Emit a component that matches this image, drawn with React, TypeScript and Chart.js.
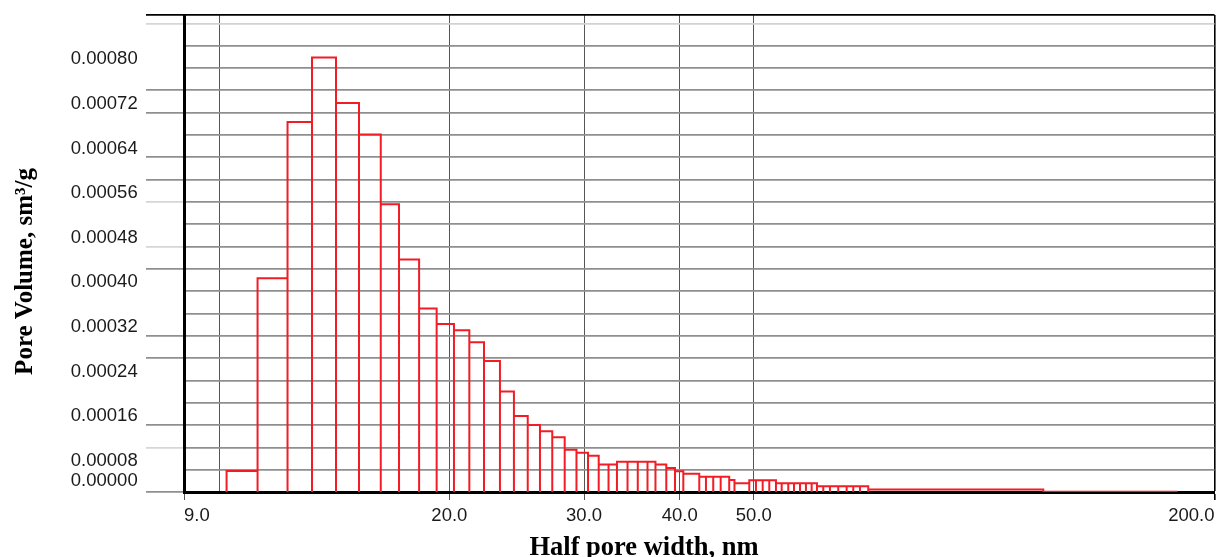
import React, { useEffect, useRef } from 'react';
import { Chart, registerables } from 'chart.js';

Chart.register(...registerables);

// Histogram bin edges (half pore width, nm)
const BIN_EDGES = [
  10.23, 11.23, 12.29, 13.23, 14.22, 15.24, 16.27, 17.19, 18.26, 19.25,
  20.28, 21.24, 22.2, 23.29, 24.29, 25.32, 26.27, 27.26, 28.3, 29.32,
  30.36, 31.35, 32.29, 33.12, 34.19, 35.26, 36.31, 37.19, 38.42, 39.44,
  40.44, 42.43, 43.29, 44.25, 45.25, 46.43, 47.17, 49.32, 50.32, 51.35,
  52.38, 53.44, 54.37, 55.46, 56.42, 57.45, 58.49, 59.5, 60.46, 61.62,
  62.87, 64.46, 66.11, 67.44, 68.81, 70.55, 119.46, 178.46,
];

// Pore volume per bin (sm3/g)
const PORE_VOLUME = [
  0.0000376, 0.0003831, 0.0006632, 0.0007787, 0.0006973, 0.0006406, 0.0005157, 0.0004166, 0.0003287, 0.0003011,
  0.0002898, 0.0002683, 0.0002348, 0.00018, 0.0001362, 0.0001201, 0.0001088, 0.000098, 0.0000756, 0.0000703,
  0.0000652, 0.0000491, 0.0000491, 0.0000541, 0.0000541, 0.0000541, 0.0000541, 0.0000491, 0.000043, 0.0000371,
  0.0000326, 0.0000272, 0.0000272, 0.0000272, 0.0000272, 0.0000215, 0.0000156, 0.000021, 0.000021, 0.000021,
  0.000021, 0.0000156, 0.0000156, 0.0000156, 0.0000156, 0.0000156, 0.0000156, 0.0000156, 0.0000102, 0.0000102,
  0.0000102, 0.0000102, 0.0000102, 0.0000102, 0.0000102, 0.0000045, 0.0000005,
];

const X_MIN = 9;
const X_MAX = 200;
const X_TICKS = [9, 10, 20, 30, 40, 50, 200];
const X_TICK_LABELS = ['9.0', '', '20.0', '30.0', '40.0', '50.0', '200.0'];

const Y_MAX = 0.000855;
const Y_GRID = [
  0, 0.00004, 0.00008, 0.00012, 0.00016, 0.0002, 0.00024, 0.00028, 0.00032, 0.00036, 0.0004,
  0.00044, 0.00048, 0.00052, 0.00056, 0.0006, 0.00064, 0.00068, 0.00072, 0.00076, 0.0008, 0.00084,
];
const Y_LABEL_VALUES = [0.00008, 0.00016, 0.00024, 0.00032, 0.0004, 0.00048, 0.00056, 0.00064, 0.00072, 0.0008];
const Y_LABEL_TEXT = ['0.00008', '0.00016', '0.00024', '0.00032', '0.00040', '0.00048', '0.00056', '0.00064', '0.00072', '0.00080'];
const Y_ZERO_LABEL = '0.00000';

const X_TITLE = 'Half pore width, nm';
const Y_TITLE = 'Pore Volume, sm\u00B3/g';

// tick-mark style indices of the horizontal grid
const Y_TICK_EXT = [0, 3, 6, 7, 10, 14, 15, 17, 18];
const Y_TICK_LIGHT = [2, 11, 13, 21];
const Y_GRID_LIGHT = [21];

const SANS = '"Liberation Sans", Arial, sans-serif';
const SERIF = '"Liberation Serif", "Times New Roman", serif';
const Y_TICK_LEN = 38;
const Y_TICK_PAD = 8.3;
const Y_LABEL_SHIFT = 13.5;
const Y_ZERO_SHIFT = -11.5;

const textPlugin = {
  id: 'extraText',
  afterDraw(chart: any) {
    const { ctx } = chart;
    const y = chart.scales.y;
    ctx.save();
    ctx.fillStyle = '#1a1a1a';
    ctx.font = `18.5px ${SANS}`;
    ctx.textAlign = 'right';
    ctx.textBaseline = 'middle';
    ctx.fillText(Y_ZERO_LABEL, y.right - Y_TICK_LEN - Y_TICK_PAD, y.getPixelForValue(0) + Y_ZERO_SHIFT);

    ctx.fillStyle = '#000';
    ctx.font = `bold 26.5px ${SERIF}`;
    ctx.textAlign = 'center';
    ctx.textBaseline = 'alphabetic';
    ctx.fillText(X_TITLE, 644, 554.5);

    ctx.translate(31.5, 271.5);
    ctx.rotate(-Math.PI / 2);
    ctx.font = `bold 25px ${SERIF}`;
    ctx.fillText(Y_TITLE, 0, 0);
    ctx.restore();
  },
};

export default function App() {
  const ref = useRef<HTMLCanvasElement | null>(null);

  useEffect(() => {
    document.body.style.margin = '0';
    document.body.style.overflow = 'hidden';
    const canvas = ref.current;
    if (!canvas) return;

    const points: { x: number; y: number }[] = [];
    for (let i = 0; i < PORE_VOLUME.length; i++) {
      const x0 = BIN_EDGES[i];
      const x1 = BIN_EDGES[i + 1];
      const h = PORE_VOLUME[i];
      points.push({ x: x0, y: 0 }, { x: x0, y: h }, { x: x1, y: h }, { x: x1, y: 0 });
    }

    const chart = new Chart(canvas, {
      type: 'line',
      data: {
        datasets: [
          {
            data: points,
            borderColor: 'rgb(242, 28, 36)',
            borderWidth: 2,
            pointRadius: 0,
            fill: false,
            tension: 0,
          },
        ],
      },
      options: {
        responsive: false,
        animation: false,
        events: [],
        layout: { padding: { top: 15, right: 1.5, left: 0, bottom: 0 } },
        plugins: { legend: { display: false }, tooltip: { enabled: false } },
        scales: {
          x: {
            type: 'logarithmic',
            min: X_MIN,
            max: X_MAX,
            afterBuildTicks: (s: any) => {
              s.ticks = X_TICKS.map((v) => ({ value: v }));
            },
            afterFit: (s: any) => {
              s.height = 65;
              s.paddingLeft = 0;
              s.paddingRight = 0;
            },
            ticks: {
              autoSkip: false,
              maxRotation: 0,
              minRotation: 0,
              align: 'inner',
              padding: 5,
              color: '#1a1a1a',
              font: { family: SANS, size: 18.5 },
              callback: (_v: any, i: number) => X_TICK_LABELS[i],
            },
            grid: {
              color: (c: any) => {
                const v = c.tick && c.tick.value;
                if (v === X_MIN) return 'rgba(0,0,0,0)';
                if (v === X_MAX) return '#000';
                return '#555';
              },
              lineWidth: (c: any) => (c.tick && c.tick.value === X_MAX ? 1.6 : 1),
              tickColor: (c: any) => {
                const v = c.tick && c.tick.value;
                if (v === 10) return 'rgba(0,0,0,0)';
                if (v === X_MAX) return '#000';
                return '#555';
              },
              tickLength: 8,
            },
            border: { display: true, color: '#000', width: 3 },
          },
          y: {
            type: 'linear',
            min: 0,
            max: Y_MAX,
            afterBuildTicks: (s: any) => {
              s.ticks = [...Y_GRID, Y_MAX].map((v) => ({ value: v }));
            },
            afterFit: (s: any) => {
              s.width = 184;
              s.paddingTop = 0;
              s.paddingBottom = 0;
            },
            ticks: {
              autoSkip: false,
              padding: Y_TICK_PAD,
              labelOffset: Y_LABEL_SHIFT,
              color: '#1a1a1a',
              font: { family: SANS, size: 18.5 },
              callback: (v: any) => {
                const i = Y_LABEL_VALUES.findIndex((lv) => Math.abs(lv - Number(v)) < 1e-10);
                return i >= 0 ? Y_LABEL_TEXT[i] : '';
              },
            },
            grid: {
              color: (c: any) => {
                const i = c.index;
                if (i === Y_GRID.length) return '#000';
                if (i === 0) return 'rgba(0,0,0,0)';
                if (Y_GRID_LIGHT.includes(i)) return '#d2d2d2';
                return '#8f8f8f';
              },
              lineWidth: 1.7,
              tickColor: (c: any) => {
                const i = c.index;
                if (i === Y_GRID.length) return '#000';
                if (Y_TICK_EXT.includes(i)) return '#8f8f8f';
                if (Y_TICK_LIGHT.includes(i)) return '#d6d6d6';
                return 'rgba(0,0,0,0)';
              },
              tickLength: Y_TICK_LEN,
            },
            border: { display: true, color: '#000', width: 3 },
          },
        },
      },
      plugins: [textPlugin],
    } as any);

    return () => chart.destroy();
  }, []);

  return <canvas ref={ref} width={1216} height={557} style={{ display: 'block' }} />;
}
